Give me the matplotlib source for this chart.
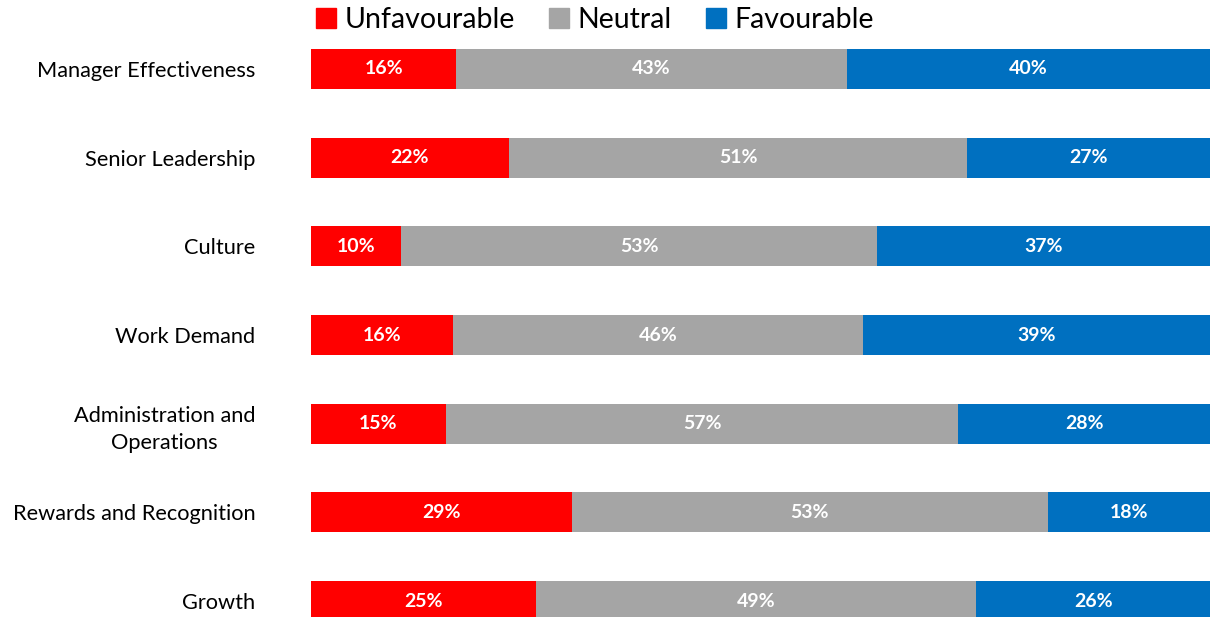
import numpy as np
import matplotlib.pyplot as plt
from matplotlib.patches import Patch

categories = ['Manager Effectiveness', 'Senior Leadership', 'Culture', 'Work Demand',
              'Administration and\nOperations', 'Rewards and Recognition', 'Growth']
unfavourable = [16, 22, 10, 16, 15, 29, 25]
neutral = [43, 51, 53, 46, 57, 53, 49]
favourable = [40, 27, 37, 39, 28, 18, 26]

series = [('Unfavourable', unfavourable, '#FF0000'),
          ('Neutral', neutral, '#A5A5A5'),
          ('Favourable', favourable, '#0070C0')]

plt.rcParams['font.family'] = ['Lato', 'DejaVu Sans']

fig = plt.figure(figsize=(12.1, 6.17), dpi=100)
ax = fig.add_axes([0.257, 0.0, 0.743, 1.0])

# each row is scaled to a 100% stack
totals = np.array(unfavourable) + np.array(neutral) + np.array(favourable)
y = np.arange(len(categories))
left = np.zeros(len(categories))
for name, vals, color in series:
    share = np.array(vals) / totals * 100
    ax.barh(y, share, left=left, height=0.45, color=color, label=name)
    for yi, l, w, v in zip(y, left, share, vals):
        ax.text(l + w / 2, yi, f'{v}%', ha='center', va='center',
                color='white', fontsize=14, fontweight='bold')
    left += share

ax.set_xlim(0, 100)
ax.set_ylim(6.18, -0.778)
ax.set_yticks(y)
ax.set_yticklabels(categories, fontsize=15.7, multialignment='center',
                   linespacing=1.45)
ax.tick_params(axis='y', length=0, pad=40)
ax.set_xticks([])
for s in ax.spines.values():
    s.set_visible(False)

handles = [Patch(color=c) for _, _, c in series]
fig.legend(handles, [n for n, _, _ in series], loc='upper center',
           bbox_to_anchor=(0.492, 1.03), ncol=3, frameon=False, fontsize=20.5,
           handlelength=0.7, handleheight=0.7, handletextpad=0.3,
           columnspacing=1.2)

fig.savefig('out.png', dpi=100)
